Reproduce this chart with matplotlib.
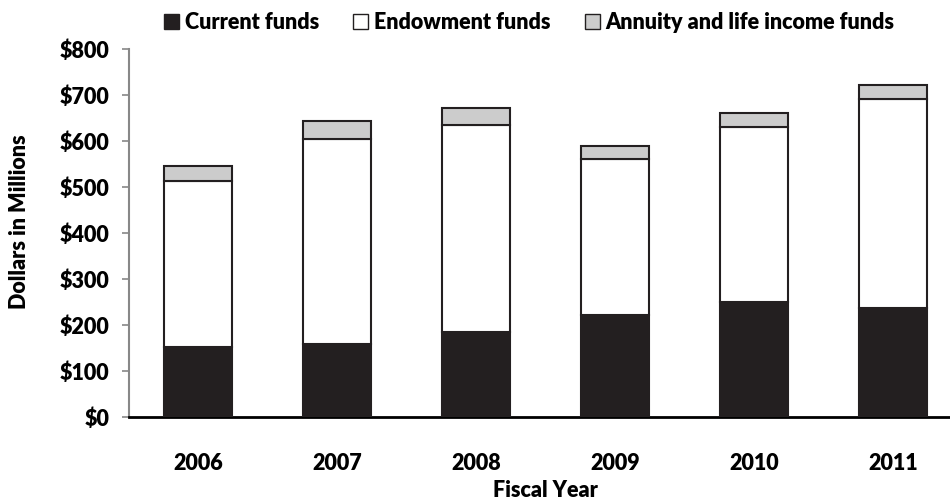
import numpy as np
import matplotlib
matplotlib.use('Agg')
import matplotlib.pyplot as plt
from matplotlib.patches import Patch

plt.rcParams['font.family'] = ['Lato', 'DejaVu Sans']
plt.rcParams['font.weight'] = 'heavy'

years = ['2006', '2007', '2008', '2009', '2010', '2011']
current = [153, 159, 184, 221, 250, 236]
endowment = [359, 446, 451, 339, 381, 455]
annuity = [34, 39, 37, 29, 30, 31]
yticks = [0, 100, 200, 300, 400, 500, 600, 700, 800]

dark = '#231f20'
grey = '#cccccc'
fs = 15.5

fig = plt.figure(figsize=(9.5, 5.04), dpi=100)
ax = fig.add_axes([0.1358, 0.1726, 0.877, 0.7302])

x = np.arange(len(years))
cur = np.array(current)
endo = np.array(endowment)
ann = np.array(annuity)
w = 0.49
ax.bar(x, cur, w, color=dark, edgecolor=dark, linewidth=1.5, zorder=3)
ax.bar(x, endo, w, bottom=cur, color='white', edgecolor=dark, linewidth=1.5, zorder=3)
ax.bar(x, ann, w, bottom=cur + endo, color=grey, edgecolor=dark, linewidth=1.5, zorder=3)

ax.set_xlim(-0.5, len(years) - 0.5)
ax.set_ylim(0, 800)
ax.set_yticks(yticks)
ax.set_yticklabels(['$' + str(v) for v in yticks], fontsize=fs, fontweight='heavy')
ax.set_xticks(x)
ax.set_xticklabels(years, fontsize=fs, fontweight='heavy')
ax.tick_params(axis='x', length=0, pad=26)
ax.tick_params(axis='y', length=5, width=1.2, color='#888888', pad=9, direction='out')

for s in ['top', 'right']:
    ax.spines[s].set_visible(False)
ax.spines['left'].set_color('#888888')
ax.spines['left'].set_linewidth(1.5)
ax.spines['bottom'].set_color('black')
ax.spines['bottom'].set_linewidth(2)

ax.set_ylabel('Dollars in Millions', fontsize=fs, fontweight='heavy')
ax.yaxis.set_label_coords(-0.119, 0.53)
ax.set_xlabel('Fiscal Year', fontsize=fs, fontweight='heavy', labelpad=4)

handles = [Patch(facecolor=dark, edgecolor=dark, label='Current funds'),
           Patch(facecolor='white', edgecolor=dark, label='Endowment funds'),
           Patch(facecolor=grey, edgecolor=dark, label='Annuity and life income funds')]
fig.legend(handles=handles, loc='upper center', bbox_to_anchor=(0.557, 1.015), ncol=3,
           frameon=False, handlelength=0.7, handleheight=0.7,
           handletextpad=0.25, columnspacing=1.6, prop={'weight': 'heavy', 'size': fs})

fig.savefig('out.png', dpi=100)
